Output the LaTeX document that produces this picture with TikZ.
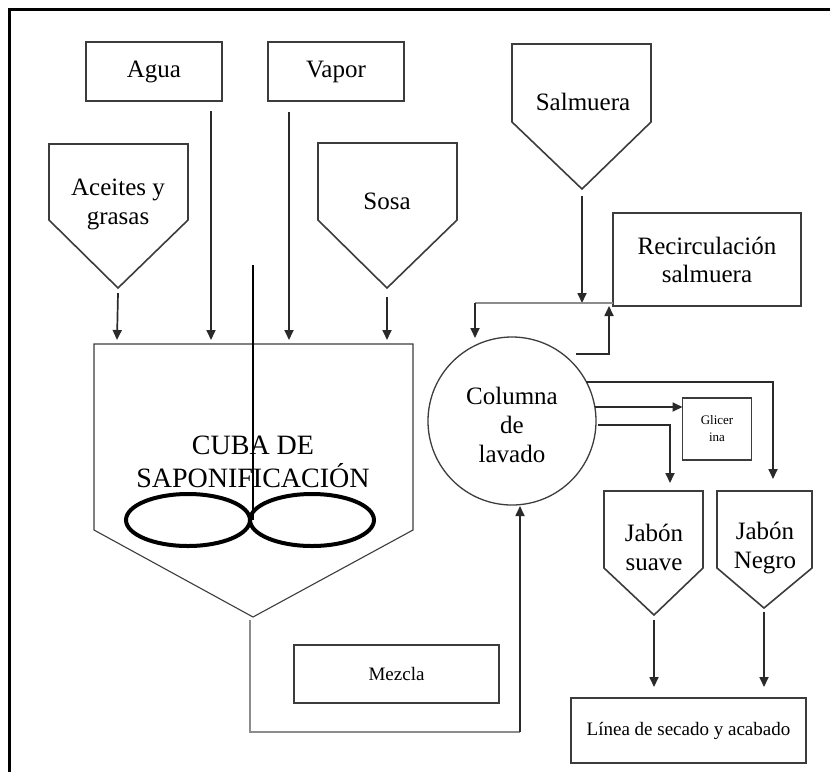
\documentclass[tikz,border=0pt]{standalone}
\usepackage{fontspec}
\setmainfont{Liberation Serif}
\usetikzlibrary{arrows.meta}
\definecolor{edge}{HTML}{3C3C3C}
\definecolor{flowc}{HTML}{2A2A2A}
\definecolor{thin}{HTML}{8C8C8C}
\begin{document}
\begin{tikzpicture}[x=1pt,y=-1pt,
  box/.style={draw=edge,line width=1.6pt,inner sep=0pt,align=center,
    font=\fontsize{25}{28}\selectfont},
  hopper/.style={draw=edge,line width=1.6pt,line join=miter},
  lbl/.style={inner sep=0pt,align=center,font=\fontsize{25}{29}\selectfont},
  flow/.style={draw=flowc,line width=1.7pt,-{Triangle[length=10pt,width=9pt]}},
  pipe/.style={draw=thin,line width=1.2pt}]
\useasboundingbox (0,0) rectangle (830,772);
\clip (0,0) rectangle (830,772);
\fill[white] (0,0) rectangle (830,772);
% outer frame (only its top and left sides fall on the page)
\draw[line width=3pt,black] (9,772) -- (9,9) -- (830,9);

% feed boxes
\node[box,minimum width=136,minimum height=59] (agua) at (154,71.5) {Agua};
\node[box,minimum width=136,minimum height=59] (vapor) at (336,71.5) {Vapor};

% hoppers
\draw[hopper] (49,144) -- (188,144) -- (188,220) -- (118,288) -- (49,220) -- cycle;
\node[lbl] (aceites) at (118,204) {Aceites y\\grasas};
\coordinate (aceitesTip) at (118,293);

\draw[hopper] (318,143) -- (457,143) -- (457,220) -- (387,288) -- (318,220) -- cycle;
\node[lbl] (sosa) at (387,201) {Sosa};
\coordinate (sosaTip) at (387,297);

\draw[hopper] (512,44) -- (651,44) -- (651,122) -- (582,189) -- (512,122) -- cycle;
\node[lbl] (salmuera) at (583,102) {Salmuera};
\coordinate (salmueraTip) at (582,196);

% saponification vessel
\draw[edge,line width=1.1pt] (94,344) -- (413,344) -- (413,530) -- (253,617) -- (94,530) -- cycle;
\node[inner sep=0pt,align=center,font=\fontsize{28}{33}\selectfont] (cuba) at (253,462)
  {CUBA DE\\SAPONIFICACIÓN};
\draw[black,line width=4pt] (188,520) ellipse [x radius=62,y radius=26];
\draw[black,line width=4pt] (312,520) ellipse [x radius=62,y radius=26];
\draw[black,line width=2.6pt] (253,265) -- (253,520);

% feed lines into the vessel
\coordinate (aguaOut) at (211,111);
\coordinate (vaporOut) at (289,112);
\coordinate (inA) at (117,340);
\coordinate (inB) at (211,340);
\coordinate (inC) at (289,340);
\coordinate (inD) at (387,340);
\draw[flow] (aceitesTip) -- (inA);
\draw[flow] (aguaOut) -- (inB);
\draw[flow] (vaporOut) -- (inC);
\draw[flow] (sosaTip) -- (inD);

% washing column
\node[draw=edge,line width=1.3pt,circle,minimum size=168,inner sep=0pt] (col) at (512,421) {};
\node[lbl] (colText) at (512,425) {Columna\\de\\lavado};

% brine
\node[box,minimum width=188,minimum height=93] (recirc) at (707,259.5) {Recirculación\\salmuera};
\coordinate (brL) at (475,303);
\coordinate (brR) at (613,303);
\coordinate (brJ) at (582,303);
\coordinate (colIn) at (475,338);
\coordinate (colBrine) at (576,354);
\coordinate (brUp) at (609,306);
\draw[flow] (salmueraTip) -- (brJ);
\draw[pipe] (brL) -- (brR);
\draw[flow] (brL) -- (colIn);
\draw[flow] (colBrine) -| (brUp);

% vessel outlet to column
\coordinate (outCuba) at (250,620);
\coordinate (bend) at (520,732);
\coordinate (colBottom) at (520,506);
\draw[pipe] (outCuba) |- (bend);
\draw[flow] (bend) -- (colBottom);
\node[box,minimum width=205,minimum height=58,font=\fontsize{19}{22}\selectfont] (mezcla) at (396.5,674) {Mezcla};

% glycerine
\node[box,minimum width=69,minimum height=62,font=\fontsize{13}{17}\selectfont] (glic) at (717,429) {Glicer\\ina};

% soap hoppers
\draw[hopper] (604,491) -- (703,491) -- (703,568) -- (654,615) -- (604,568) -- cycle;
\node[lbl] (suave) at (654,547) {Jabón\\suave};
\draw[hopper] (717,491) -- (812,491) -- (812,568) -- (764,608) -- (717,568) -- cycle;
\node[lbl] (negro) at (765,548) {Jabón\\Negro};
\coordinate (suaveTop) at (670,483);
\coordinate (negroTop) at (773,479);
\coordinate (suaveTip) at (654,620);
\coordinate (negroTip) at (764,612);

% column outputs
\coordinate (outTop) at (586,382);
\coordinate (outMid) at (595,407);
\coordinate (outLow) at (598,425);
\coordinate (glicIn) at (682.5,407);
\draw[flow] (outTop) -| (negroTop);
\draw[flow] (outMid) -- (glicIn);
\draw[flow] (outLow) -| (suaveTop);

% drying line
\node[box,minimum width=235,minimum height=65,font=\fontsize{19}{22}\selectfont] (linea) at (688.5,730.5) {Línea de secado y acabado};
\coordinate (lineaInA) at (654,687);
\coordinate (lineaInB) at (764,687);
\draw[flow] (suaveTip) -- (lineaInA);
\draw[flow] (negroTip) -- (lineaInB);
\end{tikzpicture}
\end{document}
